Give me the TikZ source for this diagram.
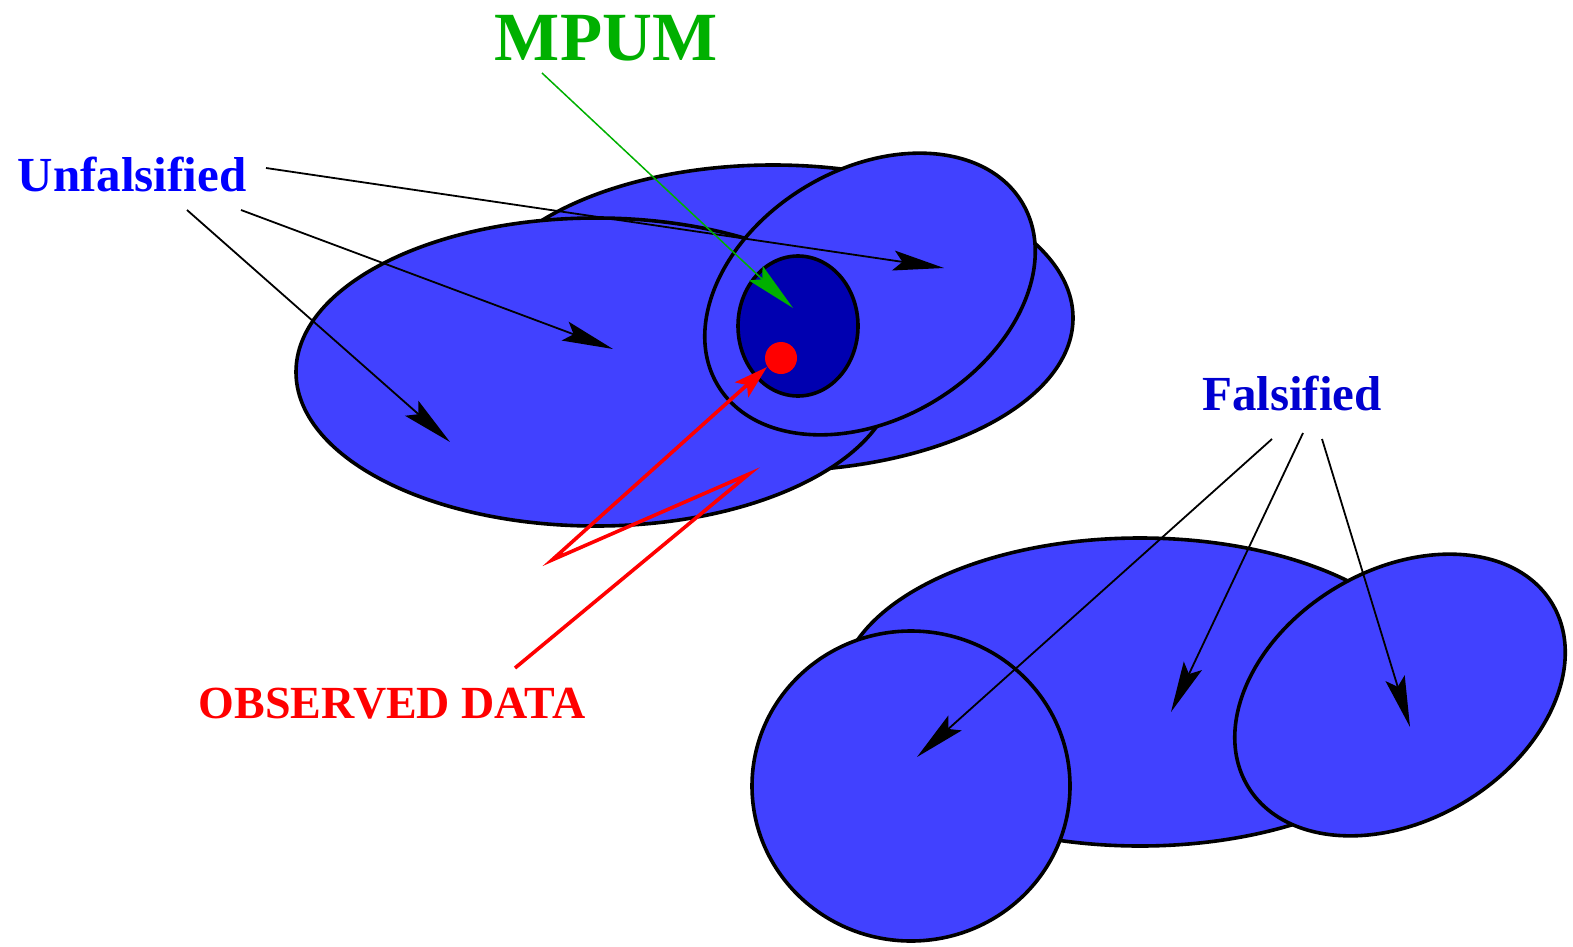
\documentclass[tikz,border=0pt]{standalone}
\usepackage{fontspec}
\setmainfont{Liberation Serif}
\usetikzlibrary{arrows.meta}
\definecolor{setblue}{RGB}{65,65,255}
\definecolor{mpumblue}{RGB}{0,0,176}
\definecolor{unfblue}{RGB}{0,0,255}
\definecolor{falblue}{RGB}{0,0,208}
\definecolor{mpumgreen}{RGB}{0,176,0}
\definecolor{obsred}{RGB}{255,0,0}

\begin{document}
\begin{tikzpicture}[
  x=1pt, y=-1pt,
  blob/.style={draw=black, fill=setblue, line width=3.6pt},
  lbl/.style={inner sep=0pt, anchor=base, font=\bfseries},
  arr/.style={-{Stealth[length=51pt, width=20pt, inset=9pt]}, line width=1.8pt},
  redarr/.style={-{Stealth[length=34pt, width=20pt, inset=7pt]}, draw=obsred, line width=3.6pt}
]
\useasboundingbox (0,0) rectangle (1573,947);

% unfalsified models
\draw[blob] (773,318) ellipse [x radius=300, y radius=153];
\draw[blob] (596,372) ellipse [x radius=300, y radius=154];
\draw[blob, shift={(870,294)}, rotate=31] (0,0) ellipse [x radius=177.5, y radius=125];
\draw[blob, fill=mpumblue] (798,326) ellipse [x radius=60, y radius=70];
\fill[obsred] (781,358) circle [radius=16];

% falsified models
\draw[blob] (1140,692) ellipse [x radius=300, y radius=154];
\draw[blob] (911,786) ellipse [x radius=159, y radius=155];
\draw[blob, shift={(1400,695)}, rotate=31] (0,0) ellipse [x radius=177.5, y radius=125];

% labels
\node[lbl, text=unfblue, font=\bfseries\fontsize{49}{55}\selectfont] (unf) at (132,191) {Unfalsified};
\node[lbl, text=mpumgreen, font=\bfseries\fontsize{69}{76}\selectfont] (mpum) at (606,61) {MPUM};
\node[lbl, text=falblue, font=\bfseries\fontsize{49}{55}\selectfont] (fal) at (1292,410) {Falsified};
\node[lbl, text=obsred, font=\bfseries\fontsize{46}{52}\selectfont] (obs) at (392,718) {OBSERVED DATA};

% arrow ends
\coordinate (u1) at (266,168);  \coordinate (u1t) at (944,268);
\coordinate (u2) at (241,210);  \coordinate (u2t) at (613,349);
\coordinate (u3) at (187,210);  \coordinate (u3t) at (450,442);
\coordinate (m1) at (542,73);   \coordinate (m1t) at (793,308);
\coordinate (o1) at (515,668);  \coordinate (o2) at (749,474);
\coordinate (o3) at (552,560);  \coordinate (o1t) at (767,367);
\coordinate (f1) at (1272,439); \coordinate (f1t) at (917,757);
\coordinate (f2) at (1303,433); \coordinate (f2t) at (1171,712);
\coordinate (f3) at (1322,439); \coordinate (f3t) at (1410,727);

\draw[arr] (u1) -- (u1t);
\draw[arr] (u2) -- (u2t);
\draw[arr] (u3) -- (u3t);
\draw[arr, draw=mpumgreen, fill=mpumgreen, line width=1.5pt] (m1) -- (m1t);
\draw[redarr] (o1) -- (o2) -- (o3) -- (o1t);
\draw[arr] (f1) -- (f1t);
\draw[arr] (f2) -- (f2t);
\draw[arr] (f3) -- (f3t);
\end{tikzpicture}
\end{document}
